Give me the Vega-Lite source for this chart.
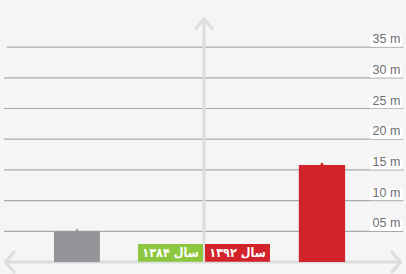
{
  "$schema": "https://vega.github.io/schema/vega-lite/v6.json",
  "width": 406,
  "height": 274,
  "autosize": {"type": "fit", "contains": "padding"},
  "padding": 0,
  "background": "#f4f5f4",
  "config": {"view": {"stroke": null}},
  "layer": [
    {
      "data": {"values": [
        {"v": 5, "x1": 1, "x2": 99.3},
        {"v": 10, "x1": 1, "x2": 99.3},
        {"v": 15, "x1": 1, "x2": 99.3},
        {"v": 20, "x1": 1, "x2": 99.3},
        {"v": 25, "x1": 1, "x2": 99.3},
        {"v": 30, "x1": 1, "x2": 99.3},
        {"v": 35, "x1": 1.7, "x2": 99.3}
      ]},
      "mark": {"type": "rule", "color": "#a7a9ac", "strokeWidth": 1.2},
      "encoding": {
        "x": {"field": "x1", "type": "quantitative", "scale": {"domain": [0, 100], "nice": false, "zero": false}, "axis": null},
        "x2": {"field": "x2"},
        "y": {"field": "v", "type": "quantitative", "scale": {"domain": [-1.95, 42.67], "nice": false, "zero": false}, "axis": null}
      }
    },
    {
      "data": {"values": [
        {"v": 5, "lab": "05 m", "bx1": 91.1, "bx2": 99, "b": 5.05, "t": 6.9, "tx": 98.6},
        {"v": 10, "lab": "10 m", "bx1": 91.1, "bx2": 99, "b": 10.05, "t": 11.9, "tx": 98.6},
        {"v": 15, "lab": "15 m", "bx1": 91.1, "bx2": 99, "b": 15.05, "t": 16.9, "tx": 98.6},
        {"v": 20, "lab": "20 m", "bx1": 91.1, "bx2": 99, "b": 20.05, "t": 21.9, "tx": 98.6},
        {"v": 25, "lab": "25 m", "bx1": 91.1, "bx2": 99, "b": 25.05, "t": 26.9, "tx": 98.6},
        {"v": 30, "lab": "30 m", "bx1": 91.1, "bx2": 99, "b": 30.05, "t": 31.9, "tx": 98.6},
        {"v": 35, "lab": "35 m", "bx1": 91.1, "bx2": 99, "b": 35.05, "t": 36.9, "tx": 98.6}
      ]},
      "layer": [
        {
          "mark": {"type": "rect", "color": "#ffffff"},
          "encoding": {"x": {"field": "bx1", "type": "quantitative"}, "x2": {"field": "bx2"}, "y": {"field": "b", "type": "quantitative"}, "y2": {"field": "t"}}
        },
        {
          "mark": {"type": "text", "align": "right", "baseline": "bottom", "dy": -1, "font": "Liberation Sans", "fontSize": 12.5, "color": "#6d6e71"},
          "encoding": {"x": {"field": "tx", "type": "quantitative"}, "y": {"field": "v", "type": "quantitative"}, "text": {"field": "lab", "type": "nominal"}}
        }
      ]
    },
    {
      "data": {"values": [
        {"g": "v", "o": 1, "x": 50.25, "y": 0},
        {"g": "v", "o": 2, "x": 50.25, "y": 39.5},
        {"g": "vh", "o": 1, "x": 48.2, "y": 38.0},
        {"g": "vh", "o": 2, "x": 50.25, "y": 39.6},
        {"g": "vh", "o": 3, "x": 52.3, "y": 38.0},
        {"g": "h", "o": 1, "x": 1.3, "y": 0},
        {"g": "h", "o": 2, "x": 98.7, "y": 0},
        {"g": "hl", "o": 1, "x": 3.5, "y": 1.65},
        {"g": "hl", "o": 2, "x": 1.3, "y": 0},
        {"g": "hl", "o": 3, "x": 3.5, "y": -1.65},
        {"g": "hr", "o": 1, "x": 96.5, "y": 1.65},
        {"g": "hr", "o": 2, "x": 98.7, "y": 0},
        {"g": "hr", "o": 3, "x": 96.5, "y": -1.65}
      ]},
      "mark": {"type": "line", "color": "#dcdddd", "strokeWidth": 3, "strokeCap": "round", "strokeJoin": "round"},
      "encoding": {"x": {"field": "x", "type": "quantitative"}, "y": {"field": "y", "type": "quantitative"}, "detail": {"field": "g", "type": "nominal"}, "order": {"field": "o", "type": "quantitative"}}
    },
    {
      "data": {"values": [
        {"name": "1384", "x1": 13.3, "x2": 24.6, "xc": 18.95, "base": 0, "v": 5.0, "c": "#939598"},
        {"name": "1392", "x1": 73.6, "x2": 85.0, "xc": 79.3, "base": 0, "v": 15.8, "c": "#d2232a"}
      ]},
      "layer": [
        {
          "mark": {"type": "rect"},
          "encoding": {"x": {"field": "x1", "type": "quantitative"}, "x2": {"field": "x2"}, "y": {"field": "base", "type": "quantitative"}, "y2": {"field": "v"}, "color": {"field": "c", "type": "nominal", "scale": null}}
        },
        {
          "mark": {"type": "point", "shape": "triangle-up", "filled": true, "size": 22, "opacity": 1, "yOffset": -1},
          "encoding": {"x": {"field": "xc", "type": "quantitative"}, "y": {"field": "v", "type": "quantitative"}, "color": {"field": "c", "type": "nominal", "scale": null}}
        }
      ]
    },
    {
      "data": {"values": [
        {"t": "سال ۱۳۸۴", "x1": 34.0, "x2": 50.0, "xc": 42.0, "b": 0.05, "top": 2.95, "m": 1.5, "c": "#8dc63f"},
        {"t": "سال ۱۳۹۲", "x1": 50.5, "x2": 66.5, "xc": 58.5, "b": 0.05, "top": 2.95, "m": 1.5, "c": "#d2232a"}
      ]},
      "layer": [
        {
          "mark": {"type": "rect"},
          "encoding": {"x": {"field": "x1", "type": "quantitative"}, "x2": {"field": "x2"}, "y": {"field": "b", "type": "quantitative"}, "y2": {"field": "top"}, "color": {"field": "c", "type": "nominal", "scale": null}}
        },
        {
          "mark": {"type": "text", "font": "DejaVu Sans Condensed", "fontWeight": "bold", "fontSize": 12.5, "color": "#ffffff", "baseline": "middle", "align": "center"},
          "encoding": {"x": {"field": "xc", "type": "quantitative"}, "y": {"field": "m", "type": "quantitative"}, "text": {"field": "t", "type": "nominal"}}
        }
      ]
    }
  ]
}
